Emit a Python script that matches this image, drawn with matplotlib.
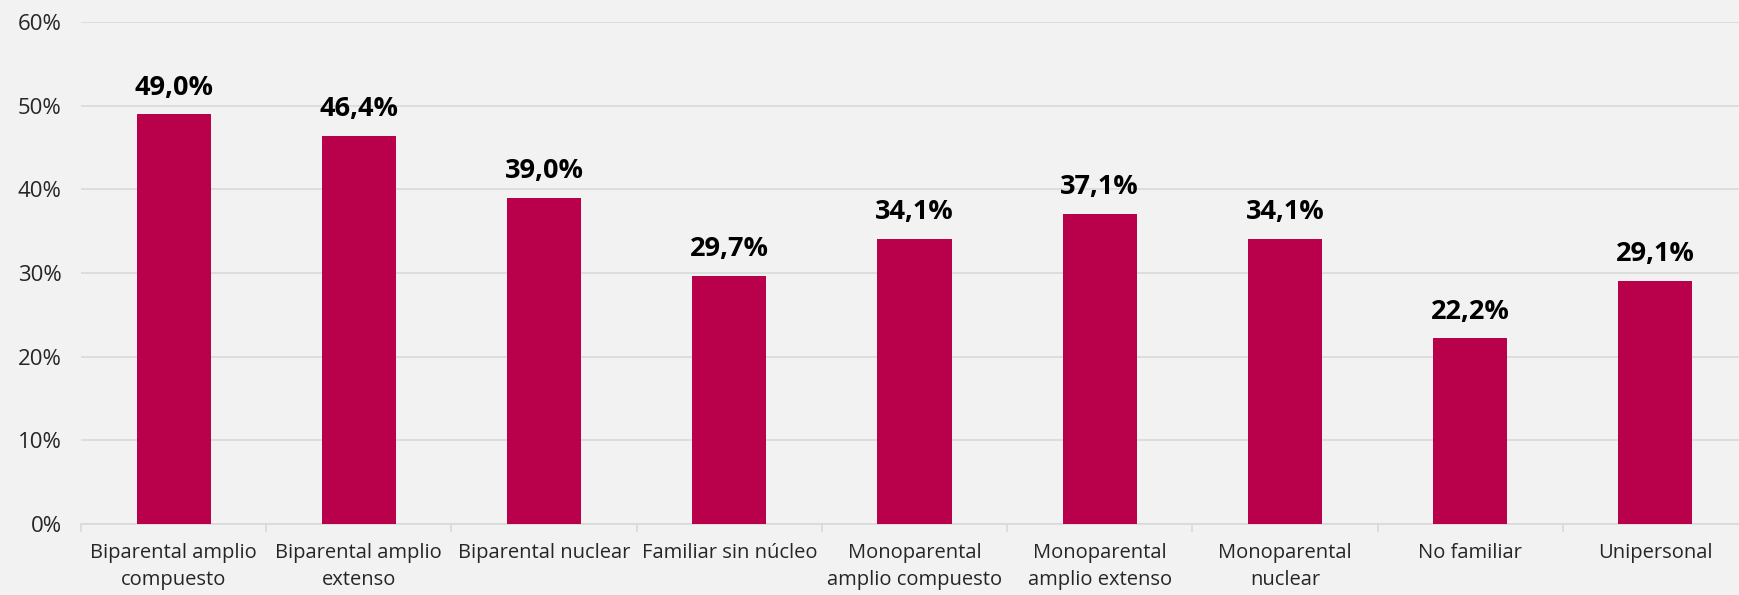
import matplotlib
matplotlib.use("Agg")
import matplotlib.pyplot as plt
import numpy as np
from matplotlib.ticker import FixedLocator, PercentFormatter

categories = ["Biparental amplio\ncompuesto", "Biparental amplio\nextenso", "Biparental nuclear",
              "Familiar sin núcleo", "Monoparental\namplio compuesto", "Monoparental\namplio extenso",
              "Monoparental\nnuclear", "No familiar", "Unipersonal"]
values = [49.0, 46.4, 39.0, 29.7, 34.1, 37.1, 34.1, 22.2, 29.1]
value_labels = ["49,0%", "46,4%", "39,0%", "29,7%", "34,1%", "37,1%", "34,1%", "22,2%", "29,1%"]
yticks = [0, 10, 20, 30, 40, 50, 60]

plt.rcParams['font.family'] = ['Open Sans', 'DejaVu Sans']
bg = "#F2F2F2"
fig = plt.figure(figsize=(17.4, 5.95), dpi=100, facecolor=bg)
ax = fig.add_axes([81/1740, 71/595, (1748-81)/1740, (524-22)/595], facecolor=bg)

x = np.arange(len(categories))
ax.bar(x, values, width=0.4, color="#B8004B", zorder=3)
for xi, v, lab in zip(x, values, value_labels):
    ax.text(xi, v + 1.6, lab, ha="center", va="bottom", fontsize=19.5, fontweight="bold", color="black")

ax.set_xlim(-0.5, len(categories) - 0.5)
ax.set_ylim(0, 60)
ax.set_yticks(yticks)
ax.yaxis.set_major_formatter(PercentFormatter(decimals=0))
ax.grid(axis="y", color="#D9D9D9", linewidth=1.2, zorder=0)
ax.set_xticks(x)
ax.set_xticklabels(categories, fontsize=14.5, linespacing=1.45, color="#262626")
ax.xaxis.set_minor_locator(FixedLocator(np.arange(-0.5, len(categories), 1.0)))
ax.tick_params(axis="x", which="major", length=0, pad=14)
ax.tick_params(axis="x", which="minor", length=6, color="#D9D9D9", width=1.2)
ax.tick_params(axis="y", length=0, labelsize=16, pad=14, labelcolor="#262626")
for s in ["top", "right", "left"]:
    ax.spines[s].set_visible(False)
ax.spines["bottom"].set_color("#D9D9D9")
ax.spines["bottom"].set_linewidth(1.2)

fig.savefig("out.png", dpi=100, facecolor=bg)
